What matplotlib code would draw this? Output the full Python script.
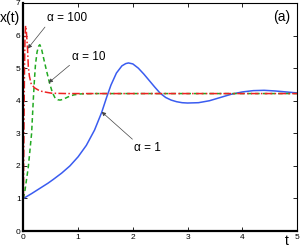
import matplotlib
matplotlib.use("Agg")
import matplotlib.pyplot as plt

plt.rcParams["font.family"] = ["Liberation Sans", "DejaVu Sans"]

# alpha = 1 (blue solid)
t1 = [0, 0.15, 0.3, 0.45, 0.55, 0.7, 0.85, 1.0, 1.15, 1.3, 1.43, 1.52, 1.6, 1.7, 1.8, 1.87, 1.92, 2.0, 2.1,
      2.2, 2.3, 2.4, 2.5, 2.6, 2.7, 2.8, 2.9, 3.0, 3.2, 3.4, 3.6, 3.8, 4.0, 4.2, 4.4, 4.6, 4.8, 5.0]
x1 = [1.0, 1.15, 1.31, 1.47, 1.59, 1.78, 2.0, 2.28, 2.63, 3.1, 3.64, 4.1, 4.48, 4.85, 5.07, 5.14, 5.16, 5.13, 5.0,
      4.82, 4.62, 4.42, 4.23, 4.1, 4.02, 3.97, 3.94, 3.93, 3.94, 4.0, 4.1, 4.2, 4.27, 4.31, 4.32, 4.3, 4.27, 4.24]
# alpha = 10 (green dashed)
t10 = [0, 0.03, 0.09, 0.15, 0.18, 0.2, 0.22, 0.25, 0.28, 0.3, 0.33, 0.37, 0.42, 0.48, 0.53, 0.58, 0.63, 0.67,
       0.72, 0.82, 0.92, 1.05, 1.3, 5.0]
x10 = [1.0, 1.26, 1.97, 3.0, 4.0, 4.6, 5.1, 5.5, 5.68, 5.72, 5.6, 5.3, 4.94, 4.53, 4.25, 4.08, 4.03, 4.02,
       4.04, 4.12, 4.18, 4.21, 4.22, 4.22]
# alpha = 100 (red dash-dot)
t100 = [0, 0.005, 0.012, 0.02, 0.03, 0.04, 0.055, 0.077, 0.09, 0.11, 0.14, 0.2, 0.27, 0.35, 0.52, 0.8, 5.0]
x100 = [1.0, 2.0, 3.5, 5.0, 6.0, 6.3, 6.1, 5.55, 5.04, 4.75, 4.53, 4.4, 4.33, 4.28, 4.23, 4.22, 4.22]

xticks = [0, 1, 2, 3, 4, 5]
yticks = [0, 1, 2, 3, 4, 5, 6, 7]

fig = plt.figure(figsize=(3.0, 2.49), dpi=100)
ax = fig.add_axes([0.078, 0.072, 0.912, 0.916])

ax.plot(t1, x1, color="#3a5cf0", lw=1.1, ls="-")
ax.plot(t10, x10, color="#22aa22", lw=1.1, ls=(0, (3, 2)))
ax.plot(t100, x100, color="#ee2222", lw=1.1, ls=(0, (5, 1.5, 1, 1.5)))

ax.set_xlim(0, 5)
ax.set_ylim(0, 7)
ax.set_xticks(xticks)
ax.set_yticks(yticks)
ax.tick_params(direction="in", top=True, right=True, length=3, width=0.6,
               labelsize=6, pad=2)
for s in ["left", "bottom"]:
    ax.spines[s].set_linewidth(1.6)
for s in ["top", "right"]:
    ax.spines[s].set_linewidth(0.8)

ax.text(-0.43, 6.55, "x(t)", fontsize=10, ha="left", va="center", clip_on=False)
ax.text(4.82, -0.32, "t", fontsize=10, ha="center", va="center", clip_on=False)
ax.text(4.72, 6.57, "(a)", fontsize=10, ha="center", va="center")

arrow = dict(arrowstyle="-|>", lw=0.5, color="#444444", mutation_scale=6, shrinkA=0, shrinkB=0)
ax.annotate("α = 100", xy=(0.08, 5.6), xytext=(0.8, 6.53), fontsize=8.5,
            ha="center", va="center", arrowprops=dict(arrow, relpos=(0.05, 0.2)))
ax.annotate("α = 10", xy=(0.46, 4.55), xytext=(1.2, 5.35), fontsize=8.5,
            ha="center", va="center", arrowprops=dict(arrow, relpos=(0.05, 0.1)))
ax.annotate("α = 1", xy=(1.43, 3.66), xytext=(2.27, 2.55), fontsize=8.5,
            ha="center", va="center", arrowprops=dict(arrow, relpos=(0.1, 0.9)))

fig.savefig("out.png", dpi=100)
